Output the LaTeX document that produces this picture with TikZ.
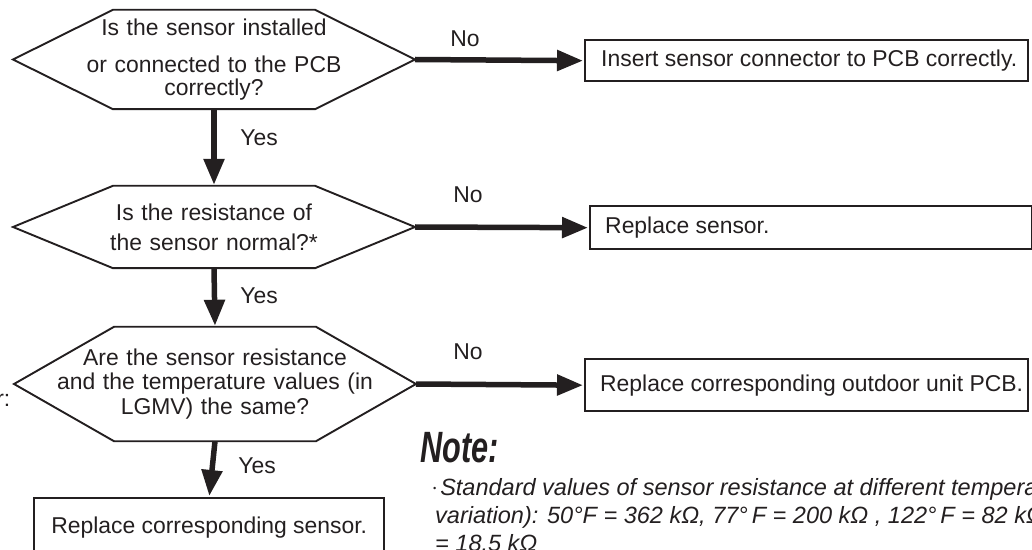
\documentclass[tikz,border=0pt]{standalone}
\usepackage{fontspec}
\setmainfont{Liberation Sans}
\usetikzlibrary{arrows.meta,positioning,calc}
\definecolor{ink}{HTML}{231F20}
\tikzset{
  >={Triangle[length=26bp,width=20bp]},
  every node/.style={font=\fontsize{23}{25}\selectfont, text=ink},
  query/.style={text width=330bp, inner sep=0pt, align=center},
  hexline/.style={draw=ink, line width=1.9bp, line join=miter},
  box/.style={draw=ink, line width=2.4bp, inner sep=0pt},
  flow/.style={->, draw=ink, line width=5.5bp, shorten >=1bp},
  notehead/.style={font=\bfseries\itshape\fontsize{44}{44}\selectfont, anchor=base west, inner sep=0pt},
  note/.style={font=\itshape\fontsize{23.6}{28}\selectfont, align=left, anchor=base west, inner sep=0pt},
}

\begin{document}
\begin{tikzpicture}[x=1bp,y=-1bp]
\useasboundingbox (0,0) rectangle (1032,550);

% ================= questions (hexagons) =================
\node[query, minimum height=99bp] (qplug) at (214,59.5)
  {Is the sensor installed\\[13bp]or connected to the PCB\\[-2bp]correctly?};
\node[query, minimum height=82bp] (qohm) at (214,227)
  {Is the resistance of\\[5bp]the sensor normal?*};
\node[query, minimum height=114bp] (qlgmv) at (215,384)
  {Are the sensor resistance\\and the temperature values (in\\LGMV) the same?};

% flat top and bottom, pointed ends
\foreach \q in {qplug,qohm,qlgmv}{
  \draw[hexline] ($(\q.north)+(-101,0)$) -- ($(\q.north)+(101,0)$)
    -- ($(\q.center)+(201,0)$) coordinate (\q-no)
    -- ($(\q.south)+(101,0)$) -- ($(\q.south)+(-101,0)$)
    -- ($(\q.center)+(-201,0)$) -- cycle;
}
\node[anchor=base east, inner sep=0pt] (cutlabel) at (10.5,406) {r:};

% ================= actions =================
\node[box, minimum width=443bp, minimum height=41bp, anchor=north west] (fixplug) at (584,39) {};
\node[anchor=west, inner sep=0pt] (fixplug-t) at ([xshift=17bp]fixplug.west) {Insert sensor connector to PCB correctly.};
\node[box, minimum width=442bp, minimum height=43bp, anchor=north west] (fixohm) at (589,205) {};
\node[anchor=west, inner sep=0pt] (fixohm-t) at ([xshift=16bp]fixohm.west) {Replace sensor.};
\node[box, minimum width=443bp, minimum height=52bp, anchor=north west] (fixpcb) at (584,358) {};
\node[anchor=west, inner sep=0pt] (fixpcb-t) at ([xshift=16bp]fixpcb.west) {Replace corresponding outdoor unit PCB.};
\node[box, minimum width=350bp, minimum height=58bp, anchor=north west] (fixsensor) at (33,497)
  {Replace corresponding sensor.};

% ================= connectors =================
\draw[flow] (qplug.south) -- (qohm.north);
\draw[flow] (qohm.south)  -- (qlgmv.north);
\draw[flow] (qlgmv.south) -- (fixsensor.north);
\draw[flow] (qplug-no) -- (fixplug.west);
\draw[flow] (qohm-no)  -- (fixohm.west);
\draw[flow] (qlgmv-no) -- (fixpcb.west);

\foreach \n/\x/\y in {yes1/259/138, yes2/259/296, yes3/257/466}
  \node (\n) at (\x,\y) {Yes};
\foreach \n/\x/\y in {no1/465/39, no2/468/195, no3/468/352}
  \node (\n) at (\x,\y) {No};

% ================= note =================
\node[notehead] (notetitle) at (420,462) {\scalebox{0.7}[1]{Note:}};
% base of a multi-line node is its last line
\node[note] (notebody) at (433,551)
  {\raisebox{4bp}{\fontsize{9}{9}\selectfont\textbullet}\,Standard values of sensor resistance at different tempera\\
   \hspace*{2bp}variation): 50°F = 362 kΩ, 77°\,F = 200 kΩ , 122°\,F = 82 kΩ\\
   \hspace*{2bp}= 18.5 kΩ};

\end{tikzpicture}
\end{document}
